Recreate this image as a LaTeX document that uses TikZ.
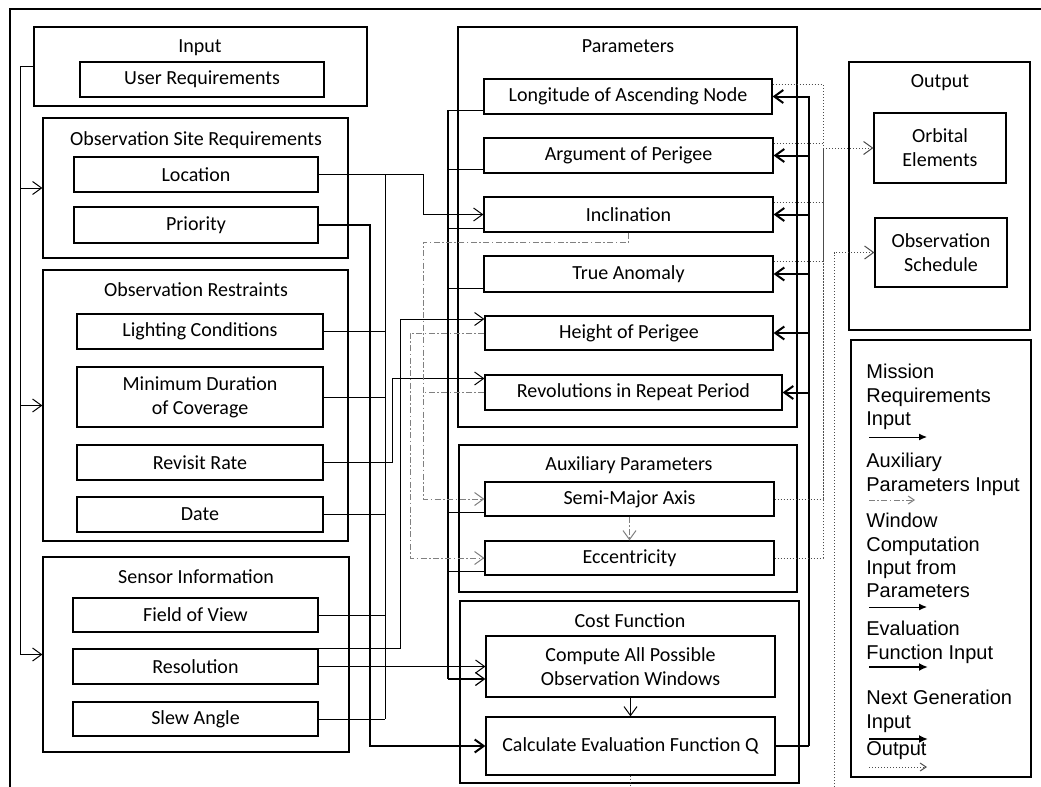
\documentclass[tikz,border=0pt]{standalone}
\usepackage{fontspec}
\setmainfont{Carlito}
\newfontfamily\legendfont{Liberation Sans}
\usetikzlibrary{arrows.meta}

\tikzset{
	grp/.style={draw, line width=0.6pt, inner sep=0pt},
	box/.style={draw, line width=0.6pt, inner sep=0pt, align=center},
	ttl/.style={inner sep=0pt, text height=7pt, text depth=2pt},
	lgtext/.style={inner sep=0pt, align=left, font=\legendfont\fontsize{10}{11.6}\selectfont},
	req/.style={line width=0.5pt},
	aux/.style={gray, line width=0.5pt, dash pattern=on 3pt off 1.2pt on 0.8pt off 1.2pt},
	win/.style={line width=0.6pt},
	evalf/.style={line width=1pt},
	nextg/.style={line width=1pt},
	outp/.style={black!70, line width=0.5pt, densely dotted}
}

\begin{document}
\begin{tikzpicture}[x=0.5pt, y=-0.5pt, >={Straight Barb[length=4.5pt,width=6.5pt]}]
	\useasboundingbox (0,0) rectangle (1041,787);
	\clip (0,0) rectangle (1041,787);
	\draw[line width=0.8pt] (1060,9) -| (10,800);

	% groups
	\node[grp, minimum width=166.5pt, minimum height=39.5pt] (input) at (200.5,66.5) {};
	\node[grp, minimum width=152.5pt, minimum height=70pt] (site) at (195.5,188) {};
	\node[grp, minimum width=152.5pt, minimum height=135.5pt] (restr) at (195.5,405.5) {};
	\node[grp, minimum width=153pt, minimum height=97.5pt] (sens) at (196,654.5) {};
	\node[grp, minimum width=169.5pt, minimum height=200pt] (params) at (627.5,227) {};
	\node[grp, minimum width=169pt, minimum height=73.5pt] (auxp) at (628,518.5) {};
	\node[grp, minimum width=169.5pt, minimum height=91pt] (cost) at (629.5,692) {};
	\node[grp, minimum width=90.5pt, minimum height=134pt] (outbox) at (939.5,196) {};
	\node[grp, minimum width=90pt, minimum height=218.5pt] (legend) at (941,558.5) {};

	% titles
	\node[ttl] (tinput) at (200,48) {Input};
	\node[ttl] (tsite) at (196,140) {Observation Site Requirements};
	\node[ttl] (trestr) at (196,291) {Observation Restraints};
	\node[ttl] (tsens) at (196,578) {Sensor Information};
	\node[ttl] (tparams) at (628,48) {Parameters};
	\node[ttl] (tauxp) at (629,465) {Auxiliary Parameters};
	\node[ttl] (tcost) at (630,622) {Cost Function};
	\node[ttl] (toutbox) at (940,82) {Output};

	% boxes
	\node[box, minimum width=122pt, minimum height=17.5pt] (ureq) at (202,79.5) {User Requirements};
	\node[box, minimum width=122pt, minimum height=17.5pt] (loc) at (196,174.5) {Location};
	\node[box, minimum width=122pt, minimum height=18pt] (pri) at (196,225) {Priority};
	\node[box, minimum width=123pt, minimum height=17.5pt] (lgt) at (200,331.5) {Lighting Conditions};
	\node[box, minimum width=123pt, minimum height=30pt] (dur) at (200,397) {Minimum Duration\\of Coverage};
	\node[box, minimum width=123pt, minimum height=17.5pt] (rev) at (200,462.5) {Revisit Rate};
	\node[box, minimum width=123pt, minimum height=17.5pt] (dat) at (200,514.5) {Date};
	\node[box, minimum width=122.5pt, minimum height=17pt] (fov) at (195.5,615) {Field of View};
	\node[box, minimum width=122.5pt, minimum height=17.5pt] (res) at (195.5,666.5) {Resolution};
	\node[box, minimum width=122.5pt, minimum height=17pt] (slw) at (195.5,719) {Slew Angle};

	\node[box, minimum width=144pt, minimum height=17.5pt] (lon) at (628,96.5) {Longitude of Ascending Node};
	\node[box, minimum width=144.5pt, minimum height=17.5pt] (arg) at (628.5,155.5) {Argument of Perigee};
	\node[box, minimum width=144.5pt, minimum height=17.5pt] (inc) at (628.5,214.5) {Inclination};
	\node[box, minimum width=144.5pt, minimum height=18pt] (tan) at (628.5,274) {True Anomaly};
	\node[box, minimum width=144pt, minimum height=17pt] (hgt) at (629,333) {Height of Perigee};
	\node[box, minimum width=148.5pt, minimum height=17.5pt] (rvp) at (633.5,392.5) {Revolutions in Repeat Period};
	\node[box, minimum width=144.5pt, minimum height=17pt] (sma) at (629.5,499) {Semi-Major Axis};
	\node[box, minimum width=144.5pt, minimum height=17pt] (ecc) at (629.5,558) {Eccentricity};
	\node[box, minimum width=144.5pt, minimum height=30.5pt] (cmp) at (630.5,666.5) {Compute All Possible\\Observation Windows};
	\node[box, minimum width=144.5pt, minimum height=29pt] (calc) at (630.5,746) {Calculate Evaluation Function Q};

	\node[box, minimum width=66pt, minimum height=35pt] (orb) at (940,148) {Orbital\\Elements};
	\node[box, minimum width=66pt, minimum height=34.5pt] (sched) at (941,252.5) {Observation\\Schedule};

	% bus lines
	\coordinate (inbus) at (20,0);
	\coordinate (prix) at (370,0);
	\coordinate (lbus) at (385,0);
	\coordinate (revx) at (392,0);
	\coordinate (hgtx) at (400,0);
	\coordinate (auxb) at (410,0);
	\coordinate (incx) at (423,0);
	\coordinate (auxa) at (423,242);
	\coordinate (winbus) at (448,679);
	\coordinate (ngbus) at (809,746);
	\coordinate (obus) at (823,148);
	\coordinate (sbus) at (834,0);

	% mission requirements
	\draw[req,->] (input.west) -| (inbus |- sens.west) -- (sens.west);
	\draw[req,->] (inbus |- site.west) -- (site.west);
	\draw[req,->] (inbus |- restr.west) -- (restr.west);
	\draw[req,->] (loc.east) -- (loc.east -| incx) |- (inc.west);
	\draw[req] (loc.east -| lbus) -- (slw.east -| lbus);
	\foreach \n in {lgt,dur,dat,fov,slw}
		\draw[req] (\n.east) -- (\n.east -| lbus);
	\draw[req,->] (res.east) -- (res.east -| cmp.west);
	\draw[req,->] (rev.east) -- (rev.east -| revx) |- ([yshift=7pt]rvp.west);
	\draw[req,->] (res.north east) -- (res.north east -| hgtx) |- ([yshift=7pt]hgt.west);
	\draw[req,->] (cmp.south) -- (calc.north);

	% evaluation function input
	\draw[evalf,->] (pri.east) -- (pri.east -| prix) |- (calc.west);

	% window computation
	\foreach \n in {lon,arg,inc,tan,sma,ecc}
		\draw[win] ([yshift=2pt]\n.south west) -| (winbus);
	\draw[win,->] (winbus) -- (winbus -| cmp.west);

	% auxiliary parameters
	\draw[aux,->] (inc.south) |- (auxa) |- (sma.west);
	\draw[aux] (rvp.west) -- (rvp.west -| auxa);
	\draw[aux,->] (hgt.west) -- (hgt.west -| auxb) |- (ecc.west);
	\draw[aux,->] (sma.south) -- (ecc.north);

	% next generation
	\draw[nextg] (calc.east) -- (ngbus);
	\foreach \n in {lon,arg,inc,tan,hgt,rvp}
		\draw[nextg,->] (ngbus) |- (\n.east);

	% output
	\foreach \n in {lon,arg,inc,tan}
		\draw[outp] ([yshift=-3pt]\n.north east) -| (obus);
	\foreach \n in {sma,ecc}
		\draw[outp] (\n.east) -| (obus);
	\draw[outp,->] (obus) -- (orb.west);
	\draw[outp,->] (calc.south) -- ++(0,30) -| (sbus |- sched.west) -- (sched.west);

	% legend
	\node[lgtext, anchor=north west] (lg1) at (866,364) {Mission\\Requirements\\Input};
	\node[lgtext, anchor=north west] (lg2) at (866,453) {Auxiliary\\Parameters Input};
	\node[lgtext, anchor=north west] (lg3) at (866,513) {Window\\Computation\\Input from\\Parameters};
	\node[lgtext, anchor=north west] (lg4) at (866,621) {Evaluation\\Function Input};
	\node[lgtext, anchor=north west] (lg5) at (866,690) {Next Generation\\Input};
	\node[lgtext, anchor=north west] (lg6) at (866,741) {Output};
	\draw[req, -{Latex[length=4pt,width=3.5pt]}] (869,437) -- (927,437);
	\draw[aux, -{Straight Barb[length=3pt,width=4pt]}] (869,500) -- (915,500);
	\draw[req, -{Latex[length=4pt,width=3.5pt]}] (869,607) -- (927,607);
	\draw[evalf, -{Latex[length=4.5pt,width=4pt]}] (869,667) -- (928,667);
	\draw[nextg, -{Latex[length=4.5pt,width=4pt]}] (869,739) -- (928,739);
	\draw[outp, -{Straight Barb[length=3pt,width=4pt]}] (869,767) -- (927,767);
\end{tikzpicture}
\end{document}
